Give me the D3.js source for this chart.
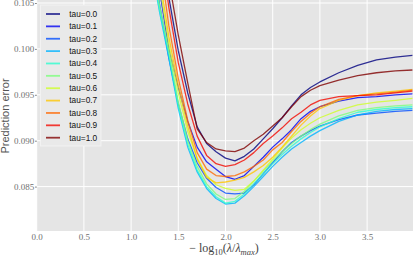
<!DOCTYPE html>
<html>
<head>
<meta charset="utf-8">
<script src="https://cdn.jsdelivr.net/npm/d3@7"></script>
<style>
  body { margin: 0; background: #fff; }
  svg { display: block; }
</style>
</head>
<body>
<div id="chart"></div>
<script>
// 415 x 256

var taus = [0.0, 0.1, 0.2, 0.3, 0.4, 0.5, 0.6, 0.7, 0.8, 0.9, 1.0];

var xGrid = [1.2, 1.3, 1.4, 1.5, 1.6, 1.7, 1.8, 1.9, 2.0, 2.1, 2.2, 2.3, 2.4, 2.5,
             2.6, 2.7, 2.8, 2.9, 3.0, 3.2, 3.4, 3.6, 3.8, 3.98];

var err00 = [0.120, 0.113, 0.1056, 0.0998, 0.0952, 0.0915, 0.0897, 0.0888, 0.0881, 0.0878, 0.0883, 0.0891, 0.0902, 0.0913, 0.0925, 0.0938, 0.0950, 0.0958, 0.0964, 0.0974, 0.0982, 0.0988, 0.0991, 0.0993];
var err01 = [0.113, 0.1065, 0.1000, 0.0958, 0.0921, 0.0893, 0.0877, 0.0869, 0.0861, 0.0858, 0.0862, 0.0872, 0.0882, 0.0893, 0.0902, 0.0912, 0.0924, 0.0932, 0.0937, 0.0943, 0.0947, 0.0948, 0.0950, 0.0951];
var err02 = [0.112, 0.1050, 0.0990, 0.0940, 0.0902, 0.0876, 0.0859, 0.0849, 0.0843, 0.0842, 0.0843, 0.0852, 0.0864, 0.0876, 0.0888, 0.0898, 0.0905, 0.0911, 0.0916, 0.0923, 0.0928, 0.0930, 0.0932, 0.0933];
var err03 = [0.110, 0.1041, 0.0990, 0.0935, 0.0893, 0.0866, 0.0848, 0.0837, 0.0831, 0.0832, 0.0840, 0.0850, 0.0861, 0.0872, 0.0882, 0.0891, 0.0898, 0.0905, 0.0911, 0.0921, 0.0928, 0.0932, 0.0934, 0.0935];
var err04 = [0.110, 0.1043, 0.0994, 0.0938, 0.0896, 0.0868, 0.0850, 0.0839, 0.0832, 0.0834, 0.0842, 0.0853, 0.0864, 0.0875, 0.0885, 0.0894, 0.0902, 0.0909, 0.0915, 0.0924, 0.0931, 0.0934, 0.0936, 0.0937];
var err05 = [0.111, 0.1048, 0.0998, 0.0942, 0.0900, 0.0872, 0.0853, 0.0842, 0.0836, 0.0837, 0.0845, 0.0856, 0.0867, 0.0878, 0.0888, 0.0897, 0.0905, 0.0912, 0.0918, 0.0927, 0.0933, 0.0936, 0.0938, 0.0939];
var err06 = [0.114, 0.107, 0.1005, 0.0952, 0.0910, 0.0881, 0.0862, 0.0852, 0.0848, 0.0846, 0.0847, 0.0856, 0.0868, 0.0880, 0.0892, 0.0903, 0.0912, 0.0919, 0.0925, 0.0933, 0.0939, 0.0942, 0.0944, 0.0946];
var err07 = [0.115, 0.108, 0.1013, 0.0960, 0.0916, 0.0880, 0.0860, 0.0854, 0.0855, 0.0857, 0.0860, 0.0866, 0.0873, 0.0882, 0.0893, 0.0905, 0.0917, 0.0927, 0.0935, 0.0944, 0.0949, 0.0952, 0.0954, 0.0956];
var err08 = [0.117, 0.110, 0.1025, 0.0968, 0.0922, 0.0887, 0.0869, 0.0862, 0.0861, 0.0862, 0.0866, 0.0872, 0.0879, 0.0890, 0.0898, 0.0910, 0.0921, 0.0930, 0.0937, 0.0945, 0.0949, 0.0951, 0.0953, 0.0955];
var err09 = [0.119, 0.112, 0.1045, 0.0985, 0.0940, 0.0905, 0.0884, 0.0875, 0.0872, 0.0874, 0.0879, 0.0887, 0.0897, 0.0905, 0.0914, 0.0924, 0.0931, 0.0939, 0.0944, 0.0948, 0.0949, 0.0950, 0.0952, 0.0954];
var err10 = [0.121, 0.114, 0.1075, 0.1015, 0.0963, 0.0913, 0.0898, 0.0891, 0.0889, 0.0888, 0.0892, 0.0900, 0.0907, 0.0916, 0.0925, 0.0937, 0.0948, 0.0955, 0.0960, 0.0966, 0.0971, 0.0974, 0.0976, 0.0977];

var series = [err00, err01, err02, err03, err04, err05, err06, err07, err08, err09, err10];

var xTicks = [0.0, 0.5, 1.0, 1.5, 2.0, 2.5, 3.0, 3.5];
var yTicks = [0.085, 0.090, 0.095, 0.100, 0.105];

var width = 415, height = 256;
var plot = { left: 36.7, right: 413, top: -2, bottom: 231 };

// matplotlib "jet" colormap
function jet(t) {
    function seg(pts) {
        for (var i = 1; i < pts.length; i++) {
            if (t <= pts[i][0]) {
                var a = pts[i - 1], b = pts[i];
                return a[1] + (b[1] - a[1]) * (t - a[0]) / (b[0] - a[0]);
            }
        }
        return pts[pts.length - 1][1];
    }
    var r = seg([[0, 0], [0.35, 0], [0.66, 1], [0.89, 1], [1, 0.5]]);
    var g = seg([[0, 0], [0.125, 0], [0.375, 1], [0.64, 1], [0.91, 0], [1, 0]]);
    var b = seg([[0, 0.5], [0.11, 1], [0.34, 1], [0.65, 0], [1, 0]]);
    return d3.rgb(r * 255, g * 255, b * 255).toString();
}

var svg = d3.select('#chart').append('svg')
    .attr('width', width)
    .attr('height', height);

var x = d3.scaleLinear().domain([0, 4]).range([36.7, 414.3]);
var y = d3.scaleLinear().domain([0.080, 0.105]).range([232.5, 3]);

svg.append('rect')
    .attr('x', plot.left).attr('y', plot.top)
    .attr('width', plot.right - plot.left)
    .attr('height', plot.bottom - plot.top)
    .attr('fill', '#e5e5e5');

svg.append('clipPath').attr('id', 'clip')
    .append('rect')
    .attr('x', plot.left).attr('y', plot.top)
    .attr('width', plot.right - plot.left)
    .attr('height', plot.bottom - plot.top);

// grid
svg.append('g').selectAll('line.vx')
    .data(xTicks)
    .enter().append('line')
    .attr('x1', d => x(d)).attr('x2', d => x(d))
    .attr('y1', plot.top).attr('y2', plot.bottom)
    .attr('stroke', '#ffffff').attr('stroke-width', 1);

svg.append('g').selectAll('line.hy')
    .data(yTicks)
    .enter().append('line')
    .attr('x1', plot.left).attr('x2', plot.right)
    .attr('y1', d => y(d)).attr('y2', d => y(d))
    .attr('stroke', '#ffffff').attr('stroke-width', 1);

// axes
var xAxis = svg.append('g')
    .attr('transform', 'translate(0,' + plot.bottom + ')')
    .call(d3.axisBottom(x).tickValues(xTicks).tickFormat(d3.format('.1f')).tickSize(0).tickPadding(2.5));

var yAxis = svg.append('g')
    .attr('transform', 'translate(' + plot.left + ',0)')
    .call(d3.axisLeft(y).tickValues(yTicks).tickFormat(d3.format('.3f')).tickSize(1.5).tickPadding(1));

[xAxis, yAxis].forEach(function(ax) {
    ax.attr('font-family', null);
    ax.select('.domain').remove();
    ax.selectAll('text')
        .style('font-family', '"Liberation Serif", "DejaVu Serif", serif')
        .attr('font-size', '9px')
        .attr('fill', '#707070');
    ax.selectAll('line').attr('stroke', '#707070');
});

// curves
var line = d3.line()
    .x((d, i) => x(xGrid[i]))
    .y(d => y(d));

svg.append('g')
    .attr('clip-path', 'url(#clip)')
    .selectAll('path')
    .data(series)
    .enter().append('path')
    .attr('d', line)
    .attr('fill', 'none')
    .attr('stroke', (d, i) => jet(taus[i]))
    .attr('stroke-opacity', 0.8)
    .attr('stroke-width', 1.3)
    .attr('stroke-linejoin', 'round');

// legend
var legend = svg.append('g');

legend.append('rect')
    .attr('x', 40.5).attr('y', 5)
    .attr('width', 60.5).attr('height', 141)
    .attr('fill', '#e9e9e9')
    .attr('stroke', '#f4f4f4')
    .attr('stroke-width', 0.8);

var item = legend.selectAll('g.item')
    .data(taus)
    .enter().append('g')
    .attr('transform', (d, i) => 'translate(0,' + (14 + i * 12.37) + ')');

item.append('line')
    .attr('x1', 46).attr('x2', 60)
    .attr('y1', 0).attr('y2', 0)
    .attr('stroke', d => jet(d))
    .attr('stroke-opacity', 0.78)
    .attr('stroke-width', 1.8);

item.append('text')
    .attr('x', 69.3)
    .attr('dy', '0.35em')
    .attr('font-family', '"Liberation Sans", Arial, sans-serif')
    .attr('font-size', '8.3px')
    .attr('fill', '#111')
    .text(d => 'tau=' + d.toFixed(1));

// axis labels
svg.append('text')
    .attr('transform', 'translate(9,116) rotate(-90)')
    .attr('text-anchor', 'middle')
    .attr('font-family', '"Liberation Sans", Arial, sans-serif')
    .attr('font-size', '11px')
    .attr('fill', '#555')
    .text('Prediction error');

var xl = svg.append('text')
    .attr('x', 224)
    .attr('y', 252)
    .attr('text-anchor', 'middle')
    .attr('font-family', '"Liberation Serif", serif')
    .attr('font-size', '12px')
    .attr('fill', '#444');

xl.append('tspan').text('\u2212 log');
xl.append('tspan').attr('font-size', '8.5px').attr('dy', 2.5).text('10');
xl.append('tspan').attr('dy', -2.5).text('(');
xl.append('tspan').attr('font-style', 'italic').text('\u03bb');
xl.append('tspan').text('/');
xl.append('tspan').attr('font-style', 'italic').text('\u03bb');
xl.append('tspan').attr('font-size', '8.5px').attr('font-style', 'italic').attr('dy', 2.5).text('max');
xl.append('tspan').attr('dy', -2.5).text(')');
</script>
</body>
</html>
